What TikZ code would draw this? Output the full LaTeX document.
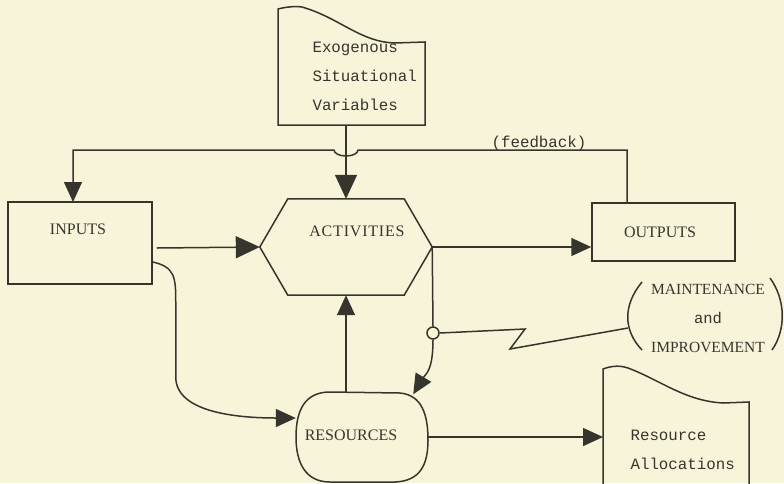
\documentclass[tikz,border=0pt]{standalone}
\usepackage{fontspec}
\setmainfont{Liberation Serif}
\setmonofont{Liberation Mono}
\usetikzlibrary{arrows.meta}
\definecolor{paper}{HTML}{F8F4DA}
\definecolor{ink}{HTML}{35352D}
\tikzset{
  ln/.style={draw=ink, line width=1.5pt},
  arr/.style={ln, -{Triangle[length=24pt,width=22pt]}},
  sarr/.style={ln, -{Triangle[length=20pt,width=18pt]}},
  serif/.style={text=ink, font=\fontsize{16}{29}\selectfont},
  mono/.style={text=ink, font=\ttfamily\fontsize{15.8}{29}\selectfont},
}
\begin{document}
\begin{tikzpicture}[x=1pt,y=-1pt]
\useasboundingbox (0,0) rectangle (784,483);
\fill[paper] (0,0) rectangle (784,483);
\clip (0,0) rectangle (784,483);

% Exogenous document shape
\draw[ln] (278,125) -- (278,9) .. controls (286,7) and (294,6) .. (302,7)
  .. controls (340,18) and (360,42) .. (395,43) -- (425,42) -- (425,125) -- cycle;
\node[mono, anchor=west, align=left] (exog) at (309,76) {Exogenous\\Situational\\Variables};
\coordinate (exogBot) at (346,125);

% INPUTS
\node[ln, rectangle, minimum width=144pt, minimum height=82pt, inner sep=0pt] (inputs) at (80,243) {};
\node[serif] (inputsLbl) at (78,229) {INPUTS};
\coordinate (inTop) at (73,202);

% ACTIVITIES hexagon
\node[minimum width=172pt, minimum height=96pt, inner sep=0pt] (act) at (346,247) {};
\draw[ln] (act.west) -- ([xshift=28pt]act.north west) -- ([xshift=-28pt]act.north east)
  -- (act.east) -- ([xshift=-28pt]act.south east) -- ([xshift=28pt]act.south west) -- cycle;
\node[text=ink, font=\addfontfeature{LetterSpace=5}\fontsize{16}{29}\selectfont] (actLbl) at (357,231) {ACTIVITIES};

% OUTPUTS
\node[ln, rectangle, minimum width=143pt, minimum height=58pt, inner sep=0pt] (outputs) at (663.5,232) {};
\node[serif] (outputsLbl) at (660,232) {OUTPUTS};
\coordinate (fbR) at (627,203);
\coordinate (hopR) at (358,150);

% feedback label
\node[mono] (fb) at (539,143) {(feedback)};

% MAINTENANCE and IMPROVEMENT
\node[align=center, text=ink, inner sep=0pt, font=\fontsize{15.5}{29}\selectfont] (maint) at (708,318)
  {MAINTENANCE\\{\ttfamily and}\\IMPROVEMENT};
\draw[ln] (642,282) .. controls (623,305) and (623,330) .. (642,350);
\draw[ln] (770,278) .. controls (786,300) and (786,330) .. (772,350);
\coordinate (parenL) at (628,328);

% circle junction
\node[ln, circle, fill=paper, minimum size=12pt, inner sep=0pt] (circ) at (433,333) {};

% RESOURCES
\node[minimum width=132pt, minimum height=89pt, inner sep=0pt] (res) at (362,437) {};
\draw[ln] (330,392) -- (400,393) .. controls (422,395) and (428,415) .. (428,440)
  .. controls (428,465) and (420,481) .. (395,482) -- (330,482)
  .. controls (305,482) and (296,462) .. (296,437) .. controls (296,410) and (305,392) .. cycle;
\node[serif] (resLbl) at (351,435) {RESOURCES};

% Resource Allocations document shape
\draw[ln] (603,490) -- (603,369) .. controls (611,366) and (619,365) .. (628,368)
  .. controls (660,380) and (685,401) .. (723,403) -- (749,402) -- (749,490);
\coordinate (allocL) at (603,436);
\node[mono, anchor=west, align=left] (alloc) at (627,450) {Resource\\Allocations};

% connectors
\draw[ln] (exogBot) -- ([yshift=-15pt]exogBot);
\draw[arr] ([yshift=-15pt]exogBot) -- (act.north);
\draw[sarr] (fbR) |- (hopR) arc[start angle=0, end angle=180, x radius=12, y radius=6] -| (inTop);
\draw[arr] ([xshift=4pt,yshift=-5pt]inputs.east) -- (act.west);
\draw[sarr] (act.east) -- (act.east -| outputs.west);
\draw[ln] (act.east) -- (circ.north);
\draw[sarr] (circ.south) .. controls +(0,32) and +(12,-20) .. ([xshift=-15pt,yshift=-2pt]res.north east);
\draw[sarr] (res.north -| act.south) -- (act.south);
\draw[sarr] ([yshift=-19pt]inputs.east) .. controls +(22,5) and +(0,-25) .. ++(23,40) -- ++(0,75)
  .. controls +(0,35) and +(-60,0) .. ([yshift=19pt]res.west);
\draw[sarr] (res.east) -- (res.east -| allocL);
\draw[ln] (circ.east) -- (525,329) -- (510,349) -- (parenL);
\end{tikzpicture}
\end{document}
